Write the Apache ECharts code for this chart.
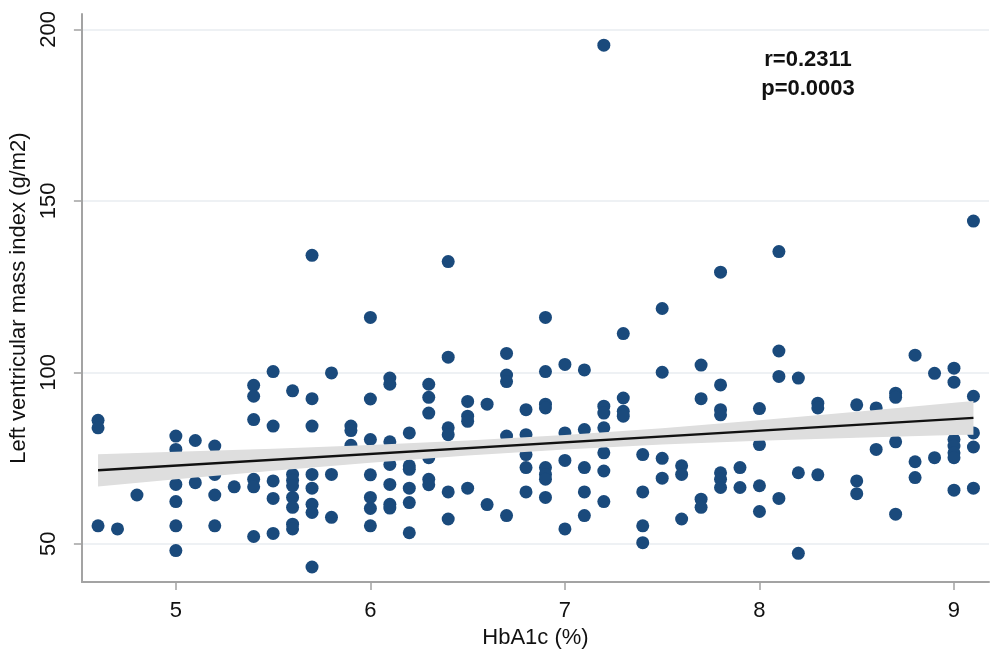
<!DOCTYPE html>
<html>
<head>
<meta charset="utf-8">
<script src="https://cdn.jsdelivr.net/npm/echarts@6/dist/echarts.min.js"></script>
<style>
  html, body { margin: 0; padding: 0; background: #fff; }
  #chart { width: 1000px; height: 654px; }
</style>
</head>
<body>
<div id="chart"></div>
<script>
// HbA1c (%) vs LV mass index
var hba1c = [
  6.0, 5.5, 5.8, 6.1, 6.1, 5.4, 5.4, 5.6, 5.7, 6.0,
  4.6, 4.6, 5.4, 5.5, 5.7, 5.9, 5.9, 5.0, 5.1, 5.2,
  5.0, 6.0, 6.1, 5.9, 5.2, 5.0, 5.1, 5.3, 5.4, 5.4,
  5.5, 5.6, 5.6, 5.6, 5.7, 5.7, 5.8, 6.0, 6.1, 6.1,
  4.8, 5.0, 5.2, 5.5, 5.6, 5.6, 5.7, 5.7, 6.0, 6.0,
  6.1, 6.1, 4.6, 4.7, 5.0, 5.2, 5.6, 5.6, 5.8, 6.0,
  5.4, 5.5, 5.0, 5.7,
  7.5, 6.9, 7.3, 6.4, 6.7, 6.7, 6.7, 6.9, 7.0, 7.1,
  7.5, 7.7, 7.7, 6.3, 6.3, 6.3, 6.5, 6.5, 6.5, 6.6,
  6.8, 6.9, 6.9, 7.2, 7.2, 7.3, 7.3, 7.3, 6.2, 6.4,
  6.4, 6.8, 7.0, 7.1, 7.2, 6.7, 6.2, 6.2, 6.2, 6.2,
  6.2, 6.3, 6.3, 6.3, 6.4, 6.4, 6.5, 6.6, 6.7, 6.8,
  6.8, 6.8, 6.9, 6.9, 6.9, 6.9, 7.0, 7.0, 7.1, 7.1,
  7.1, 7.2, 7.2, 7.2, 7.4, 7.4, 7.4, 7.4, 7.5, 7.5,
  7.6, 7.6, 7.6, 7.7, 7.7,
  8.1, 8.8, 8.1, 8.2, 8.9, 9.0, 9.0, 7.8, 7.8, 7.8,
  8.0, 8.3, 8.3, 8.5, 8.7, 8.7, 9.1, 8.6, 9.1, 8.0,
  8.7, 8.6, 9.0, 9.0, 9.0, 9.0, 9.1, 8.9, 8.8, 8.8,
  7.8, 7.8, 7.8, 7.9, 7.9, 8.0, 8.0, 8.1, 8.2, 8.2,
  8.3, 8.5, 8.5, 8.7, 9.0, 9.1,
  7.2, 5.7, 6.4, 7.8, 8.1, 9.1
];
var lvmi = [
  116.0, 100.2, 99.8, 98.3, 96.5, 96.2, 93.0, 94.6, 92.3, 92.2,
  86.0, 83.8, 86.2, 84.3, 84.3, 84.3, 83.0, 81.4, 80.1, 78.5,
  77.5, 80.4, 79.7, 78.7, 70.2, 67.3, 67.8, 66.6, 68.8, 66.6,
  68.3, 70.2, 68.5, 66.9, 70.2, 66.2, 70.2, 70.1, 67.3, 73.1,
  64.2, 62.3, 64.2, 63.2, 63.5, 60.6, 61.5, 59.1, 63.5, 60.3,
  61.5, 60.4, 55.2, 54.3, 55.2, 55.2, 55.7, 54.3, 57.7, 55.2,
  52.1, 53.0, 48.0, 43.2,
  118.6, 116.0, 111.3, 104.4, 105.5, 99.2, 97.3, 100.2, 102.3, 100.7,
  100.0, 102.1, 92.3, 96.5, 92.7, 88.1, 91.5, 87.2, 85.7, 90.7,
  89.1, 90.7, 89.6, 90.1, 88.1, 92.5, 88.6, 87.2, 82.3, 83.8,
  81.8, 81.8, 82.3, 83.3, 83.8, 81.4, 72.7, 71.7, 66.2, 62.0,
  53.2, 75.1, 68.8, 67.2, 65.1, 57.2, 66.2, 61.4, 58.2, 76.0,
  72.2, 65.1, 72.2, 70.2, 68.8, 63.5, 74.3, 54.3, 72.2, 65.1,
  58.2, 76.5, 71.2, 62.3, 76.0, 65.1, 55.2, 50.3, 74.9, 69.1,
  72.7, 70.2, 57.2, 63.0, 60.6,
  106.2, 105.0, 98.8, 98.3, 99.7, 101.2, 97.1, 96.3, 89.1, 87.6,
  89.4, 91.0, 89.6, 90.5, 93.9, 92.7, 93.0, 89.6, 82.3, 78.9,
  79.7, 77.5, 80.4, 78.5, 76.5, 75.1, 78.2, 75.1, 73.9, 69.3,
  70.7, 68.8, 66.4, 72.2, 66.4, 66.9, 59.4, 63.2, 70.7, 47.2,
  70.1, 68.3, 64.6, 58.6, 65.6, 66.2,
  195.4, 134.1, 132.3, 129.2, 135.2, 144.1
];

// fitted line and its confidence band
var fitX = [4.6, 9.1];
var fitY = [71.4, 86.7];
var ciX = [4.6, 5.0, 5.5, 6.0, 6.5, 7.0, 7.5, 8.0, 8.5, 9.0, 9.1];
var ciLower = [66.7, 68.8, 71.3, 73.6, 75.7, 77.5, 78.9, 80.0, 80.9, 81.7, 81.8];
var ciUpper = [76.1, 76.8, 77.7, 78.8, 80.1, 81.7, 83.7, 86.0, 88.5, 91.1, 91.6];

var xTicks = [5, 6, 7, 8, 9];
var yTicks = [50, 100, 150, 200];

var stats = ['r=0.2311', 'p=0.0003'];

var FONT = 'Liberation Sans';
var axisGray = '#a3a3a3';

var points = hba1c.map(function(x, i) { return [x, lvmi[i]]; });
var fitLine = fitX.map(function(x, i) { return [x, fitY[i]]; });

var chart = echarts.init(document.getElementById('chart'));

var option = {
  backgroundColor: '#ffffff',
  animation: false,
  grid: { left: 77, right: 11, top: 14, bottom: 69 },
  xAxis: {
    type: 'value',
    min: 4.517,
    max: 9.18,
    name: 'HbA1c (%)',
    nameLocation: 'middle',
    nameGap: 41,
    nameTextStyle: { fontFamily: FONT, fontSize: 22, color: '#111' },
    axisLine: { lineStyle: { color: axisGray, width: 2 } },
    axisTick: { customValues: xTicks, length: 8, lineStyle: { color: axisGray, width: 1.5 } },
    axisLabel: { customValues: xTicks, fontFamily: FONT, fontSize: 22, color: '#111', margin: 18 },
    splitLine: { show: false }
  },
  yAxis: {
    type: 'value',
    min: 38.8,
    max: 204.5,
    name: 'Left ventricular mass index (g/m2)',
    nameLocation: 'middle',
    nameGap: 50,
    nameTextStyle: { fontFamily: FONT, fontSize: 22, color: '#111' },
    axisLine: { show: true, lineStyle: { color: axisGray, width: 2 } },
    axisTick: { show: true, customValues: yTicks, length: 8, lineStyle: { color: axisGray, width: 1.5 } },
    axisLabel: { customValues: yTicks, rotate: 90, fontFamily: FONT, fontSize: 22, color: '#111', margin: 22 },
    splitLine: { show: true, lineStyle: { color: '#e8ecf0', width: 1.5 } }
  },
  graphic: [{
    type: 'text',
    x: 808,
    y: 45,
    style: {
      text: stats.join('\n'),
      font: 'bold 22px "Liberation Sans"',
      fill: '#111',
      textAlign: 'center',
      lineHeight: 29
    }
  }],
  series: [
    {
      type: 'scatter',
      data: points,
      symbol: 'circle',
      symbolSize: 13,
      itemStyle: { color: '#1a4a7c', opacity: 1 },
      z: 2
    },
    {
      type: 'custom',
      data: [[ciX[0], ciLower[0]]],
      z: 3,
      renderItem: function(params, api) {
        var pts = [];
        for (var i = 0; i < ciX.length; i++) pts.push(api.coord([ciX[i], ciUpper[i]]));
        for (var j = ciX.length - 1; j >= 0; j--) pts.push(api.coord([ciX[j], ciLower[j]]));
        return { type: 'polygon', shape: { points: pts }, style: { fill: '#dedede' } };
      }
    },
    {
      type: 'line',
      data: fitLine,
      symbol: 'none',
      lineStyle: { color: '#111', width: 2.5 },
      z: 4
    }
  ]
};

chart.setOption(option);
</script>
</body>
</html>
